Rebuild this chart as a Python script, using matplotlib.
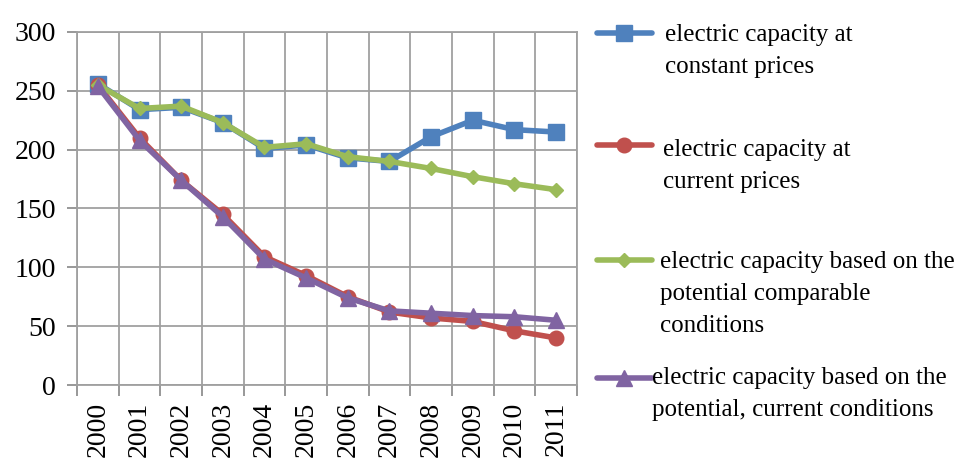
import matplotlib
matplotlib.use("Agg")
import matplotlib.pyplot as plt
import numpy as np
from matplotlib.lines import Line2D

years = ["2000", "2001", "2002", "2003", "2004", "2005", "2006", "2007", "2008", "2009", "2010", "2011"]
constant_prices = [256, 234, 236, 223, 201, 204, 193, 190, 211, 225, 217, 215]
current_prices = [255, 210, 174, 145, 109, 93, 75, 62, 57, 54, 46, 40]
comparable_conditions = [255, 235, 237, 223, 202, 205, 194, 190, 184, 177, 171, 166]
current_conditions = [254, 208, 174, 143, 107, 91, 74, 63, 61, 59, 58, 55]

labels = [
    ["electric capacity at", "constant prices"],
    ["electric capacity at", "current prices"],
    ["electric capacity based on the", "potential comparable", "conditions"],
    ["electric capacity based on the", "potential, current conditions"],
]
colors = ["#4F81BD", "#C0504D", "#9BBB59", "#8064A2"]
markers = ["s", "o", "D", "^"]
msizes = [12, 10.5, 7.5, 12]
series = [constant_prices, current_prices, comparable_conditions, current_conditions]

plt.rcParams["font.family"] = ["Liberation Serif", "DejaVu Serif"]

W, H = 962, 465
fig = plt.figure(figsize=(W / 100, H / 100), dpi=100)
ax = fig.add_axes([77 / W, 1 - 385 / H, 500 / W, (385 - 32) / H])

x = np.arange(len(years))
for s, c, m, ms in zip(series, colors, markers, msizes):
    ax.plot(x, s, color=c, lw=4.0, marker=m, markersize=ms, markeredgecolor=c,
            solid_joinstyle="round", solid_capstyle="round", zorder=3, clip_on=False)

ax.set_xlim(-0.5, len(years) - 0.5)
ax.set_ylim(0, 300)
ax.set_yticks(np.arange(0, 301, 50))
ax.set_xticks(np.arange(-0.5, len(years)), minor=False)
ax.set_xticklabels([])
ax.set_xticks(x, minor=True)
ax.set_xticklabels(years, minor=True, rotation=90, fontsize=20)
ax.tick_params(axis="x", which="major", length=8, width=1.3, color="#909090")
ax.tick_params(axis="x", which="minor", length=0, pad=12)
ax.tick_params(axis="y", length=7, width=1.3, color="#909090", labelsize=20, pad=8)
ax.grid(True, which="major", color="#a0a0a0", lw=1.3)
for sp in ax.spines.values():
    sp.set_color("#a0a0a0")
    sp.set_linewidth(1.3)
ax.set_axisbelow(True)

# legend drawn manually
handle_y = [33, 145, 260, 378]
text_x = [665, 663, 660, 652]
first_line_y = [35, 150, 262, 378]
line_gap = 32
for i in range(4):
    yy = 1 - handle_y[i] / H
    fig.add_artist(Line2D([597 / W, 652 / W], [yy, yy], color=colors[i], lw=4.0,
                          solid_capstyle="round", transform=fig.transFigure))
    fig.add_artist(Line2D([624 / W], [yy], color=colors[i], marker=markers[i],
                          markersize=msizes[i], markeredgecolor=colors[i],
                          transform=fig.transFigure))
    for j, line in enumerate(labels[i]):
        fig.text(text_x[i] / W, 1 - (first_line_y[i] + j * line_gap) / H, line,
                 fontsize=18, va="center", ha="left")

fig.savefig("out.png", dpi=100)
